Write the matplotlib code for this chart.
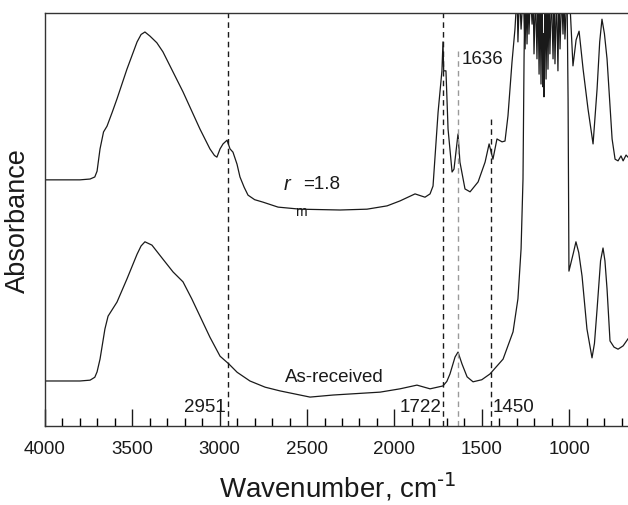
import matplotlib
matplotlib.use("Agg")
import matplotlib.pyplot as plt
from matplotlib.ticker import MultipleLocator

plt.rcParams["font.family"] = ["Liberation Sans", "DejaVu Sans"]
plt.rcParams["mathtext.default"] = "regular"

# --- upper spectrum (r_m = 1.8), wavenumber / absorbance (arb. units) ---
rm_wn = [4000, 3800, 3742, 3715, 3702, 3685, 3665, 3645, 3615, 3588, 3531, 3473,
         3450, 3428, 3399, 3360, 3325, 3210, 3113, 3056, 3030, 3016, 2998, 2981,
         2958, 2941, 2924, 2901, 2884, 2860, 2838, 2800, 2752, 2666, 2540, 2311,
         2157, 2042, 1968, 1882, 1825, 1796, 1779, 1750, 1728, 1722, 1718, 1705,
         1693, 1670, 1659, 1636, 1625, 1596, 1567, 1521, 1481, 1458, 1436, 1413,
         1384, 1367, 1350, 1327, 1310, 1298,
         # saturated, noisy region
         1293, 1284, 1275, 1263, 1252, 1246, 1241, 1235, 1230, 1221, 1212,
         1206, 1201, 1192, 1184, 1178, 1172, 1166, 1161, 1155, 1149, 1146,
         1144, 1138, 1132, 1126, 1121, 1115, 1110, 1101, 1092, 1086, 1081,
         1072, 1064, 1058, 1052, 1043, 1035, 1029, 1024, 1012,
         995, 978, 960, 943, 920, 892, 863, 840, 825, 812, 798, 783, 754, 737,
         720, 703, 691, 674, 663]
rm_abs = [0.596, 0.596, 0.598, 0.603, 0.617, 0.671, 0.712, 0.726, 0.760, 0.792, 0.864, 0.930,
          0.948, 0.954, 0.944, 0.928, 0.906, 0.809, 0.719, 0.671, 0.655, 0.651, 0.671, 0.683,
          0.692, 0.671, 0.663, 0.634, 0.603, 0.578, 0.559, 0.548, 0.542, 0.530, 0.525, 0.523,
          0.525, 0.533, 0.545, 0.562, 0.554, 0.562, 0.581, 0.760, 0.860, 0.930, 0.860, 0.860,
          0.719, 0.615, 0.622, 0.707, 0.639, 0.574, 0.567, 0.591, 0.639, 0.683, 0.646, 0.695,
          0.688, 0.690, 0.751, 0.881, 0.961, 1.05,
          0.930, 1.05, 0.961, 1.05, 0.913, 1.05, 0.925, 1.05, 0.949, 1.05, 0.973,
          1.05, 0.901, 1.05, 0.889, 1.05, 0.852, 1.05, 0.828, 1.05, 0.821, 0.95,
          0.797, 1.05, 0.840, 1.05, 0.864, 1.05, 0.901, 1.05, 0.889, 1.05, 0.877,
          1.05, 0.860, 1.05, 0.913, 1.05, 0.949, 1.05, 0.937, 1.05,
          1.02, 0.872, 0.935, 0.956, 0.864, 0.768, 0.683, 0.816, 0.930, 0.985, 0.950, 0.889,
          0.695, 0.646, 0.642, 0.654, 0.642, 0.656, 0.651]

# --- lower spectrum (as-received) ---
ar_wn = [4000, 3800, 3742, 3715, 3702, 3685, 3657, 3639, 3615, 3588, 3531, 3473,
         3450, 3428, 3388, 3325, 3267, 3210, 3160, 3113, 3056, 2998, 2947, 2900,
         2827, 2740, 2655, 2483, 2351, 2082, 1968, 1871, 1796, 1722, 1700, 1682,
         1653, 1636, 1613, 1584, 1550, 1500, 1453, 1378, 1321, 1293, 1275, 1264,
         1258, 1253, 1012, 1006, 1001, 975, 961, 945, 926, 898, 869, 855, 840,
         820, 806, 795, 783, 766, 743, 720, 691, 663]
ar_abs = [0.109, 0.109, 0.111, 0.118, 0.131, 0.162, 0.235, 0.266, 0.282, 0.300, 0.356, 0.416,
          0.436, 0.446, 0.438, 0.404, 0.373, 0.349, 0.308, 0.266, 0.215, 0.169, 0.150, 0.130,
          0.109, 0.094, 0.085, 0.070, 0.075, 0.082, 0.090, 0.099, 0.090, 0.097, 0.108, 0.126,
          0.167, 0.179, 0.150, 0.119, 0.107, 0.112, 0.126, 0.162, 0.228, 0.308, 0.429, 0.598,
          0.889, 1.05, 1.05, 0.792, 0.375, 0.420, 0.446, 0.420, 0.363, 0.235, 0.165, 0.200, 0.283,
          0.400, 0.431, 0.400, 0.332, 0.206, 0.191, 0.186, 0.194, 0.211]

# marker lines: wavenumber, top of the line, colour
mark_wn = [2951, 1722, 1636, 1450]
mark_top = [1.0, 1.0, 0.908, 0.751]
mark_col = ["#1a1a1a", "#1a1a1a", "#9a9a9a", "#1a1a1a"]

fig = plt.figure(figsize=(6.28, 5.06), dpi=100)
ax = fig.add_axes([45 / 628, 79 / 506, 583 / 628, 413 / 506])

ax.plot(rm_wn, rm_abs, color="#1a1a1a", lw=0.9)
ax.plot(ar_wn, ar_abs, color="#1a1a1a", lw=0.9)

for w, t, c in zip(mark_wn, mark_top, mark_col):
    ax.plot([w, w], [0, t], color=c, lw=1.0, ls=(0, (4, 3)))

fs = 13.5
ax.text(2964, 0.048, "2951", ha="right", va="center", fontsize=fs, color="#1a1a1a")
ax.text(1733, 0.048, "1722", ha="right", va="center", fontsize=fs, color="#1a1a1a")
ax.text(1436, 0.048, "1450", ha="left", va="center", fontsize=fs, color="#1a1a1a")
ax.text(1613, 0.889, "1636", ha="left", va="center", fontsize=fs, color="#1a1a1a")
ax.text(2626, 0.119, "As-received", ha="left", va="center", fontsize=fs, color="#1a1a1a")
ax.text(2634, 0.586, "r", ha="left", va="center", fontsize=fs + 1, style="italic", color="#1a1a1a")
ax.text(2570, 0.521, "m", ha="left", va="center", fontsize=fs * 0.75, color="#1a1a1a")
ax.text(2523, 0.586, "=1.8", ha="left", va="center", fontsize=fs, color="#1a1a1a")

ax.set_xlim(4000, 663)
ax.set_ylim(0, 1)
ax.xaxis.set_major_locator(MultipleLocator(500))
ax.xaxis.set_minor_locator(MultipleLocator(100))
ax.tick_params(axis="x", which="major", direction="in", length=12, width=1,
               labelsize=fs, pad=10, colors="#1a1a1a")
ax.tick_params(axis="x", which="minor", direction="in", length=6, width=1)
ax.set_yticks([])
ax.spines["right"].set_visible(False)
for s in ("left", "bottom", "top"):
    ax.spines[s].set_color("#333333")
    ax.spines[s].set_linewidth(1.0)

fig.text(338 / 628, 8 / 506, r"Wavenumber, cm$^{\text{-1}}$", ha="center", va="baseline",
         fontsize=20, color="#1a1a1a")
ax.set_ylabel("Absorbance", fontsize=19.5, labelpad=10, color="#1a1a1a")

fig.savefig("out.png", dpi=100)
